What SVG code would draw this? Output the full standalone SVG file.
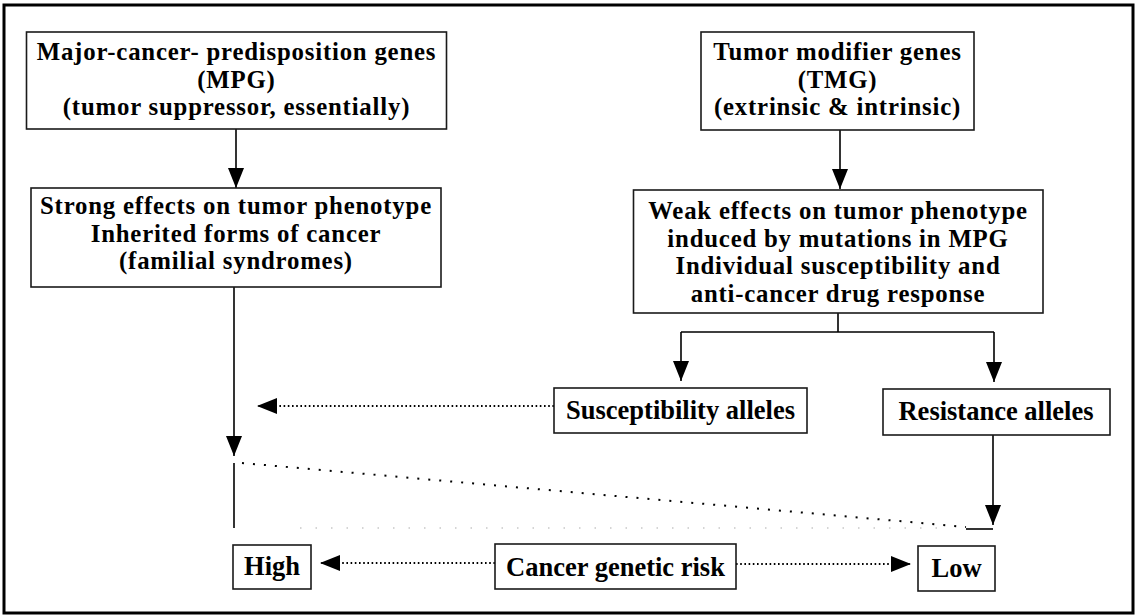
<svg xmlns="http://www.w3.org/2000/svg" width="1137" height="616" viewBox="0 0 1137 616">
<defs>
<style>
.box{fill:#fff;stroke:#1a1a1a;stroke-width:1.6}
.t{font-family:"Liberation Serif","Times New Roman",serif;font-weight:bold;font-size:26.5px;fill:#000;text-anchor:middle}
.m{font-family:"Liberation Serif","Times New Roman",serif;font-weight:bold;font-size:24.8px;letter-spacing:0.8px;fill:#000;text-anchor:middle}
.solid{fill:none;stroke:#000;stroke-width:1.6}
.dot{fill:none;stroke:#000;stroke-width:1.8;stroke-dasharray:1.6 2.6}
.diag{fill:none;stroke:#000;stroke-width:2;stroke-dasharray:2 9}
.faint{fill:none;stroke:#c8c8c8;stroke-width:1.5;stroke-dasharray:1.5 14}
</style>
<marker id="ah" markerUnits="userSpaceOnUse" markerWidth="20" markerHeight="16" refX="20" refY="8" orient="auto">
<path d="M0,0 L20,8 L0,16 z" fill="#000"/>
</marker>
</defs>
<rect x="0" y="0" width="1137" height="616" fill="#fff"/>
<rect x="4" y="5" width="1129" height="608" fill="none" stroke="#000" stroke-width="3"/>

<g id="connectors">
<path class="solid" d="M236,129 V188" marker-end="url(#ah)"/>
<path class="solid" d="M234,287 V456" marker-end="url(#ah)"/>
<path class="solid" d="M234,463 V528"/>
<path class="solid" d="M840,130 V189" marker-end="url(#ah)"/>
<path class="solid" d="M838,313 V332 M681,332 H994"/>
<path class="solid" d="M681,332 V381" marker-end="url(#ah)"/>
<path class="solid" d="M994,332 V382" marker-end="url(#ah)"/>
<path class="solid" d="M993,435 V525" marker-end="url(#ah)"/>
<path class="solid" d="M966,529 H993"/>
<path class="diag" d="M242,463 L966,527"/>
<path class="faint" d="M300,528 H950"/>
<path class="dot" d="M554,406 H257" marker-end="url(#ah)"/>
<path class="dot" d="M495,563 H320" marker-end="url(#ah)"/>
<path class="dot" d="M736,564 H911" marker-end="url(#ah)"/>
</g>

<g id="mpg">
<rect class="box" x="26.5" y="32" width="420" height="97"/>
<text class="m" x="236.5" y="60">Major-cancer- predisposition genes</text>
<text class="m" x="236.5" y="87.5">(MPG)</text>
<text class="m" x="236.5" y="115">(tumor suppressor, essentially)</text>
</g>

<g id="strong">
<rect class="box" x="31" y="188" width="410" height="99"/>
<text class="m" x="236" y="214">Strong effects on tumor phenotype</text>
<text class="m" x="236" y="241.5">Inherited forms of cancer</text>
<text class="m" x="236" y="269">(familial syndromes)</text>
</g>

<g id="tmg">
<rect class="box" x="701" y="32" width="273" height="98"/>
<text class="m" x="837.5" y="60">Tumor modifier genes</text>
<text class="m" x="837.5" y="87.5">(TMG)</text>
<text class="m" x="837.5" y="115">(extrinsic &amp; intrinsic)</text>
</g>

<g id="weak">
<rect class="box" x="633.5" y="190" width="409.5" height="123"/>
<text class="m" x="838" y="219">Weak effects on tumor phenotype</text>
<text class="m" x="838" y="246.5">induced by mutations in MPG</text>
<text class="m" x="838" y="274">Individual susceptibility and</text>
<text class="m" x="838" y="301.5">anti-cancer drug response</text>
</g>

<g id="susceptibility">
<rect class="box" x="554" y="388" width="253" height="45"/>
<text class="t" x="680.5" y="419">Susceptibility alleles</text>
</g>

<g id="resistance">
<rect class="box" x="883" y="389" width="227" height="46"/>
<text class="t" x="996" y="420">Resistance alleles</text>
</g>

<g id="high">
<rect class="box" x="233" y="545" width="78" height="44"/>
<text class="t" x="272" y="575">High</text>
</g>

<g id="risk">
<rect class="box" x="495" y="544" width="241" height="45"/>
<text class="t" x="615.5" y="576">Cancer genetic risk</text>
</g>

<g id="low">
<rect class="box" x="918" y="546" width="77" height="45"/>
<text class="t" x="956.5" y="577">Low</text>
</g>
</svg>
